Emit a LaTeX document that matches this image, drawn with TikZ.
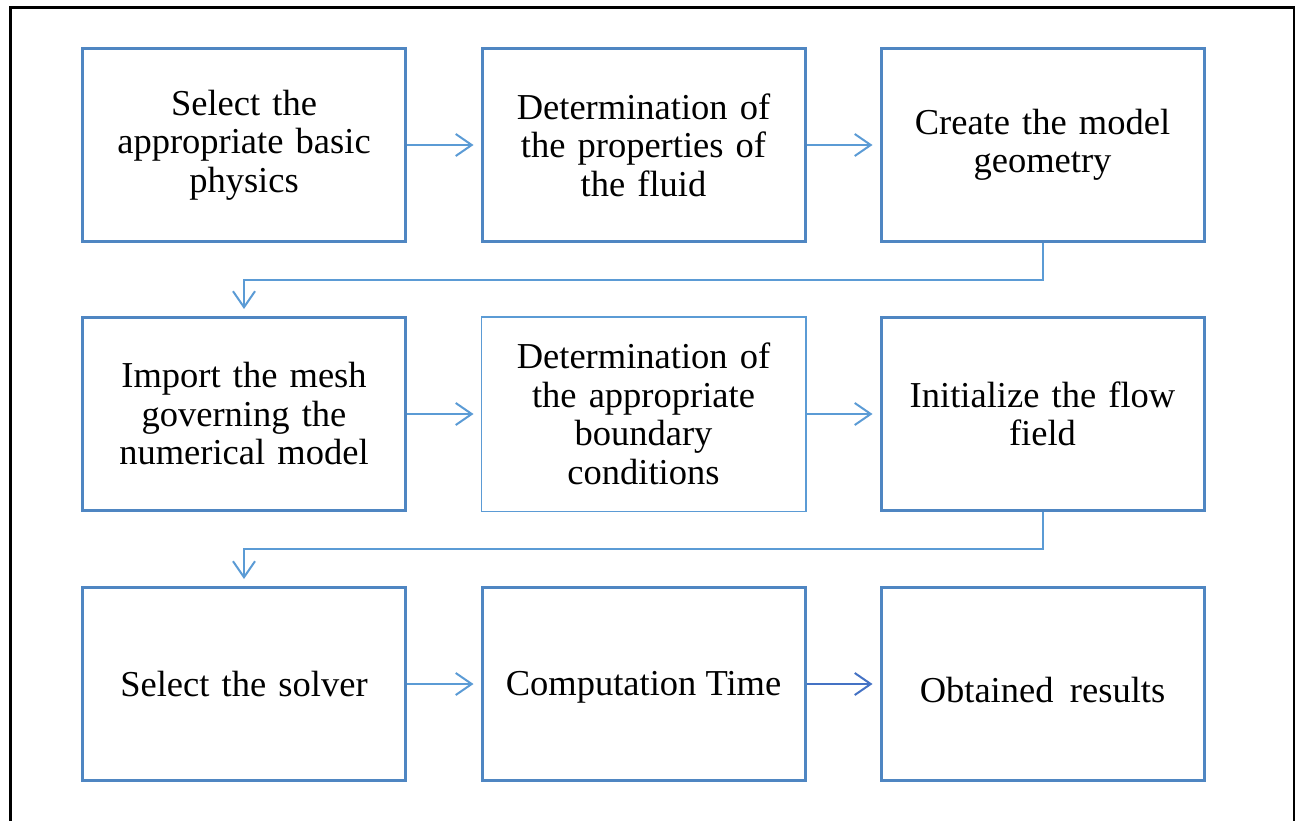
\documentclass[tikz,border=0pt]{standalone}
\usepackage{fontspec}
\setmainfont{Liberation Serif}
\usetikzlibrary{arrows.meta}
\definecolor{boxblue}{RGB}{79,134,194}
\definecolor{lineblue}{RGB}{91,155,213}
\definecolor{darkline}{RGB}{68,114,196}
\begin{document}
\begin{tikzpicture}[x=1pt,y=-1pt,
  stepbox/.style={draw=boxblue,line width=3pt,minimum width=323pt,minimum height=193pt,
    inner sep=0pt,align=center,text width=310pt,
    font=\fontsize{36.5}{38.5}\selectfont},
  thinbox/.style={stepbox,draw=lineblue,line width=1.5pt,minimum width=324.5pt,minimum height=194.5pt},
  label/.style={font=\fontsize{36.5}{38.5}\selectfont,inner sep=0pt},
  flow/.style={draw=lineblue,line width=2pt,shorten >=7pt,
    -{Straight Barb[length=16pt,width=22pt,line width=2pt]}}]
\useasboundingbox (0,0) rectangle (1295,821);
% outer frame (open at the bottom)
\draw[black,line width=2.5pt] (10.5,821) -- (10.5,7.5) -- (1294,7.5) -- (1294,821);
% row 1
\node[stepbox] (n11) at (244,145) {Select the\\appropriate basic\\physics};
\node[stepbox] (n12) at (643.5,145) {Determination of\\the properties of\\the fluid};
\node[stepbox] (n13) at (1042.5,145) {Create the model\\geometry};
% row 2
\node[stepbox] (n21) at (244,414) {Import the mesh\\governing the\\numerical model};
\node[thinbox] (n22) at (643.5,414) {Determination of\\the appropriate\\boundary\\conditions};
\node[stepbox] (n23) at (1042.5,414) {Initialize the flow\\field};
% row 3
\node[stepbox] (n31) at (244,684) {Select the solver};
\node[stepbox] (n32) at (643.5,684) {};
\node[label] (t32) at ([yshift=-3pt]n32.center) {Computation Time};
\node[stepbox] (n33) at (1042.5,684) {};
\node[label] (t33) at ([yshift=-6pt]n33.center) {Obtained\hspace{0.45em}results};
% connectors
\draw[flow] (n11.east) -- (n12.west);
\draw[flow] (n12.east) -- (n13.west);
\draw[flow] (n13.south) -- ++(0,37) -| (n21.north);
\draw[flow] (n21.east) -- (n22.west);
\draw[flow] (n22.east) -- (n23.west);
\draw[flow] (n23.south) -- ++(0,37) -| (n31.north);
\draw[flow] (n31.east) -- (n32.west);
\draw[flow,draw=darkline] (n32.east) -- (n33.west);
\end{tikzpicture}
\end{document}
